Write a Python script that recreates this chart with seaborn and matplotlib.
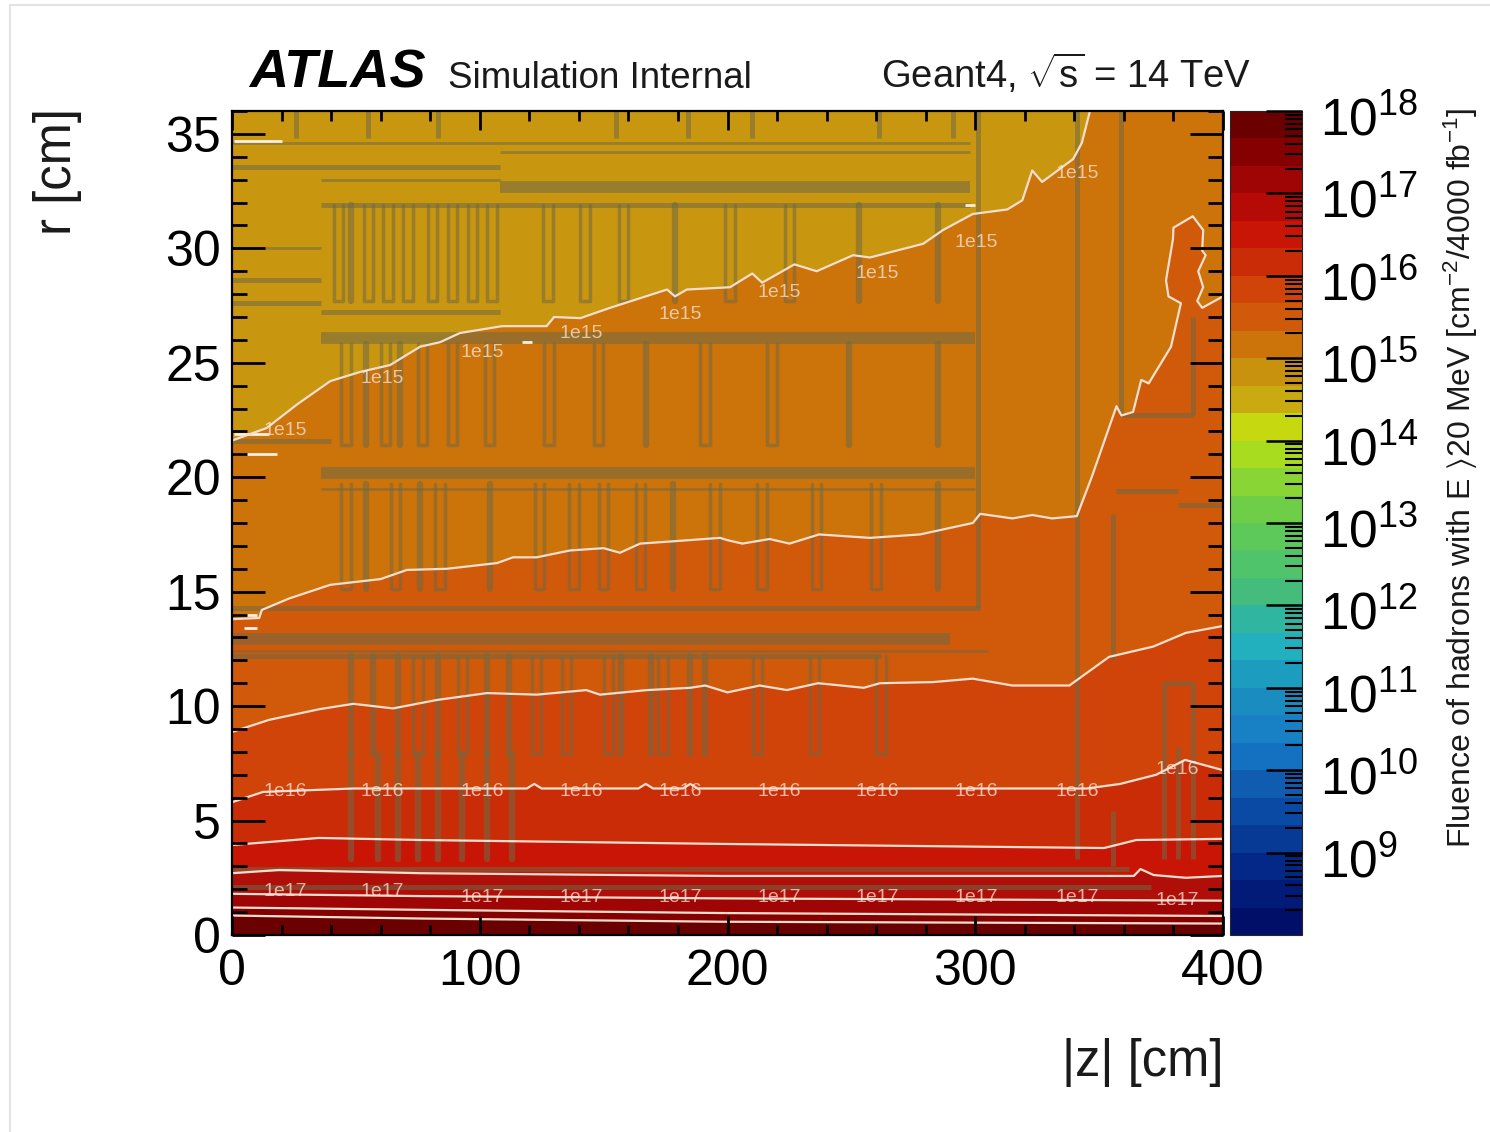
import numpy as np
import seaborn as sns
import matplotlib.pyplot as plt
from matplotlib.colors import ListedColormap, LogNorm
from matplotlib.cm import ScalarMappable
from matplotlib.lines import Line2D
from matplotlib.ticker import LogLocator, MultipleLocator, NullFormatter
from matplotlib.transforms import ScaledTranslation

# colour bar bands, bottom to top, three per decade from 1e8 to 1e18
band_colors = ["#010F68", "#021A78", "#032888", "#063A95", "#0A4AA5", "#0F5CB0",
               "#1470C0", "#1880C5", "#1A8CC0", "#1C9CBE", "#22B0BE", "#2FB5A0",
               "#45BC7C", "#4FC46A", "#5CC95A", "#6FCE48", "#88D535", "#A8DC1E",
               "#C5D810", "#C9AA10", "#C8920F", "#CC730A", "#D05A0A", "#D0440A",
               "#CB2C08", "#C81506", "#B50A05", "#A00505", "#850000", "#6B0000"]

# contours, from large r to small r
c1_z = [0, 14, 26.5, 39.7, 51.7, 63.8, 75.9, 84, 92, 109, 127, 130, 140.6, 152.6, 175.6, 178.8,
        183.6, 201, 210, 214, 227, 236, 250.7, 257.5, 279, 287, 299, 313, 319, 323, 327, 339.5, 343, 346.3]
c1_r = [21.6, 22.15, 23.2, 24.2, 24.6, 24.9, 25.7, 25.9, 26.3, 26.6, 26.6, 27.0, 26.95, 27.4, 28.2, 27.9,
        28.2, 28.3, 28.9, 28.5, 29.3, 29.0, 29.7, 29.6, 30.2, 30.8, 31.5, 31.7, 32.1, 33.4, 32.9, 33.9, 34.6, 36]

c2_z = [0, 11, 12, 23, 39.7, 60, 70.6, 86.8, 107, 113.4, 123, 136.4, 150, 156.6, 164.7, 178, 197, 200, 206,
        217, 225, 237, 257.5, 277.7, 299, 302, 315, 323, 331, 341, 347, 357, 359, 363.7, 367, 370, 379, 383,
        378, 377, 379.8, 380, 387.8, 392, 391.6, 393, 390, 392, 389.6, 391.6, 400]
c2_r = [13.8, 13.85, 14.2, 14.7, 15.3, 15.55, 15.95, 16, 16.25, 16.5, 16.5, 16.8, 16.9, 16.7, 17.1, 17.2, 17.35, 17.25, 17.1,
        17.3, 17.1, 17.5, 17.35, 17.5, 18.0, 18.4, 18.2, 18.35, 18.2, 18.3, 20, 23.1, 22.7, 22.85, 24.25, 24.1, 25.7, 27.6,
        27.9, 28.6, 30.4, 30.9, 31.4, 30.8, 29.9, 29.7, 29, 28.3, 27.7, 27.4, 27.9]

c3_z = [0, 15, 35.5, 49, 65, 82.8, 103, 123, 143, 148.5, 167.5, 185, 191, 200, 213, 224, 236.6, 255, 261.5,
        283, 299, 315, 338, 354, 371.8, 385, 400]
c3_r = [8.87, 9.4, 9.87, 10.1, 9.9, 10.27, 10.57, 10.5, 10.7, 10.5, 10.7, 10.8, 10.9, 10.6, 10.9, 10.7, 11, 10.8, 11,
        11.05, 11.2, 10.9, 10.9, 12.15, 12.6, 13.2, 13.5]

c4_z = [0, 12.5, 49, 119, 122, 125, 164, 167, 170, 182, 185, 188, 197, 345, 358.5, 373, 384.7, 400]
c4_r = [5.8, 6.25, 6.4, 6.4, 6.6, 6.4, 6.4, 6.6, 6.4, 6.4, 6.6, 6.4, 6.4, 6.4, 6.6, 7, 7.65, 7.2]

c5_z = [0, 35, 76, 197, 352, 365, 400]
c5_r = [3.93, 4.24, 4.15, 3.98, 3.8, 4.15, 4.2]

c6_z = [0, 19, 76, 197, 364, 366.7, 372, 385, 400]
c6_r = [2.7, 2.84, 2.7, 2.58, 2.58, 2.88, 2.62, 2.5, 2.58]

c7_z = [0, 76, 197, 400]
c7_r = [1.8, 1.7, 1.6, 1.5]
c8_z = [0, 76, 197, 400]
c8_r = [1.2, 1.1, 0.96, 0.83]
c9_z = [0, 76, 197, 400]
c9_r = [0.85, 0.72, 0.58, 0.5]

contours = [(c1_z, c1_r), (c2_z, c2_r), (c3_z, c3_r), (c4_z, c4_r), (c5_z, c5_r),
            (c6_z, c6_r), (c7_z, c7_r), (c8_z, c8_r), (c9_z, c9_r)]
below_colors = ["#CC730A", "#D05A0A", "#D0440A", "#CB2C08", "#C81506", "#B00E08", "#A00505", "#850000", "#6B0000"]

# contour labels
label_z = [21.4, 60.5, 100.9, 140.9, 180.8, 220.8, 260.3, 300.3, 341, 381.4]
label_1e15_r = [22.06, 24.3, 25.47, 26.3, 27.09, 28.09, 28.88, 30.27, 33.29]
label_1e16_r = [6.29] * 9 + [7.25]
label_1e17_r = [1.88, 1.88, 1.66, 1.66, 1.66, 1.66, 1.66, 1.66, 1.66, 1.49]

# material boundaries: slot rows (hollow z, solid z, r from, r to)
row_a = ([43, 55, 63, 71, 81, 89, 97, 105, 127.5, 142.5, 158, 201, 225], [48, 179, 253, 285], 31.9, 27.7)
row_b = ([46, 62, 77, 89, 104, 128, 148, 191, 218], [54, 68, 167, 249, 285], 25.8, 21.4)
row_c = ([46, 66, 84, 124, 138, 150, 165, 195, 214, 236, 260], [54, 76, 104, 178, 285], 19.7, 15.1)
row_d = ([75, 93, 123, 135, 152, 174, 212, 235, 262], [48, 57, 67, 83, 103, 112, 157, 169, 185, 191], 12.2, 7.9)
row_f = ([], [48, 59, 67, 75, 83, 93, 103, 113], 7.9, 3.3)
slot_rows = [row_a, row_b, row_c, row_d, row_f]

# short marks hanging from the top edge
top_z = [26, 55, 83, 155, 184, 210, 261, 291]

right_z = [301, 341, 359, 355.6, 388, 376, 388, 382, 355.6]
right_r0 = [36, 36, 36, 18.4, 27, 11, 11, 8.2, 5.4]
right_r1 = [14.3, 3.3, 22.7, 12, 22.7, 3.3, 3.3, 3.3, 3]

thick_r = [32.7, 26.1, 20.2, 12.95]
thick_z0 = [108, 36, 36, 0]
thick_z1 = [298, 300, 300, 290]
mid_r = [33.55, 31.9, 27.2, 27.6, 28.6, 21.6, 14.3, 12.2, 2.9, 2.1, 22.7, 19.4, 18.8, 11]
mid_z0 = [0, 36, 36, 0, 0, 0, 0, 0, 0, 0, 359, 357, 382, 376]
mid_z1 = [108, 298, 108, 36, 36, 40, 302, 262, 362, 371, 388, 382, 400, 388]
thin_r = [34.6, 34.2, 33.0, 30.0, 19.5, 12.4]
thin_z0 = [0, 108, 36, 0, 36, 0]
thin_z1 = [298, 298, 108, 36, 300, 305]

# small bright dashes
dash_r = [34.7, 21.0, 21.9, 14.0, 13.4, 31.9, 25.9]
dash_z0 = [1, 1, 1, 1, 5, 296, 117]
dash_z1 = [20, 18, 15, 10, 10, 300, 121]

z_ticks = [0, 100, 200, 300, 400]
r_ticks = [0, 5, 10, 15, 20, 25, 30, 35]

sns.set_theme(style="ticks")
plt.rcParams['font.family'] = ['Liberation Sans', 'DejaVu Sans']
plt.rcParams['mathtext.fontset'] = 'custom'
plt.rcParams['mathtext.rm'] = 'Liberation Sans'
plt.rcParams['mathtext.it'] = 'Liberation Sans:italic'
plt.rcParams['mathtext.bf'] = 'Liberation Sans:bold'
plt.rcParams['mathtext.default'] = 'regular'

W, H = 1490, 1132
fig = plt.figure(figsize=(W / 100, H / 100), dpi=100)
ax = fig.add_axes([232 / W, 1 - 935 / H, 991 / W, 824 / H])
cax = fig.add_axes([1230 / W, 1 - 935 / H, 72 / W, 824 / H])

ax.set_xlim(0, 400)
ax.set_ylim(0, 36)
ax.set_facecolor("#C9960F")

# filled regions, each one covers everything under its contour
for (cz, cr), col in zip(contours, below_colors):
    if cz is c1_z:
        ax.fill(list(cz) + [400, 400, 0], list(cr) + [36, 0, 0], color=col, lw=0, zorder=1)
    else:
        ax.fill(list(cz) + [400, 0], list(cr) + [0, 0], color=col, lw=0, zorder=1)

struct = dict(color="#6e6a45", alpha=0.55, zorder=2)
for hollow, solid, r0, r1 in slot_rows:
    ax.vlines(solid, r0, r1, lw=4.6, capstyle="round", **struct)
    for z in hollow:
        ax.plot([z - 1.9, z - 1.9, z + 1.9, z + 1.9], [r0, r1, r1, r0], lw=2.5, **struct)
ax.vlines(top_z, 34.8, 36, lw=3.5, **struct)
ax.vlines(right_z, right_r0, right_r1, lw=3.6, **struct)
ax.hlines(thick_r, thick_z0, thick_z1, lw=8.5, **struct)
ax.hlines(mid_r, mid_z0, mid_z1, lw=3.6, **struct)
ax.hlines(thin_r, thin_z0, thin_z1, lw=2, **struct)

ax.hlines(dash_r, dash_z0, dash_z1, color="#f6efe2", lw=2, zorder=4)

for cz, cr in contours:
    sns.lineplot(x=cz, y=cr, sort=False, estimator=None, ax=ax, color="#f3dfcf", lw=1.6, zorder=5)

for vals, txt in [(label_1e15_r, "1e15"), (label_1e16_r, "1e16"), (label_1e17_r, "1e17")]:
    for z, r in zip(label_z, vals):
        ax.text(z, r, txt, color="#f7e6d8", alpha=0.75, fontsize=14, ha="center", va="center", zorder=6)

# ROOT style ticks on all sides
ax.set_xticks(z_ticks)
ax.set_yticks(r_ticks)
ax.xaxis.set_minor_locator(MultipleLocator(20))
ax.yaxis.set_minor_locator(MultipleLocator(1))
ax.tick_params(which="both", direction="in", top=True, right=True, colors="black", width=2)
ax.tick_params(axis="x", which="major", length=14, labelsize=36, pad=10)
ax.tick_params(axis="x", which="minor", length=7)
ax.tick_params(axis="y", which="major", length=24, labelsize=36, pad=8)
ax.tick_params(axis="y", which="minor", length=11)
ax.xaxis.set_zorder(8)
ax.yaxis.set_zorder(8)
for s in ax.spines.values():
    s.set_linewidth(1.6)
    s.set_color("black")
    s.set_zorder(9)
ax.set_xlabel("")
ax.set_ylabel("")

cmap = ListedColormap(band_colors)
cb = fig.colorbar(ScalarMappable(norm=LogNorm(1e8, 1e18), cmap=cmap), cax=cax)
cb.outline.set_linewidth(0.8)
cax.yaxis.set_ticks_position("right")
cax.set_yticks([10.0**i for i in range(9, 19)])
cax.yaxis.set_minor_locator(LogLocator(base=10, subs=range(2, 10), numticks=12))
cax.yaxis.set_minor_formatter(NullFormatter())
cax.tick_params(which="major", direction="in", length=26, width=1.8, color="black",
                labelcolor="black", labelsize=37, pad=13)
cax.tick_params(which="minor", direction="in", length=12, width=1.5, color="black")
cax.yaxis.set_zorder(8)
shift = ScaledTranslation(0, -5 / 100, fig.dpi_scale_trans)
for lab in cax.get_yticklabels():
    lab.set_transform(lab.get_transform() + shift)

# header and axis titles
fig.text(249 / W, 1 - 87 / H, "ATLAS", fontsize=39, fontweight="bold", fontstyle="italic", color="black")
fig.text(448 / W, 1 - 88 / H, "Simulation Internal", fontsize=26.5, color="#1a1a1a")
fig.text(881 / W, 1 - 88 / H, r"Geant4, $\sqrt{s}$ = 14 TeV", fontsize=27.5, color="#1a1a1a")
fig.text(1223 / W, 1 - 1076 / H, "|z| [cm]", fontsize=36.5, ha="right", color="#1a1a1a")
fig.text(58 / W, 1 - 108 / H, "r [cm]", fontsize=36.5, rotation=90, ha="center", va="top", color="#1a1a1a")
fig.text(1461 / W, 1 - 108 / H, r"Fluence of hadrons with E $\rangle$20 MeV [cm$^{-2}$/4000 fb$^{-1}$]",
         fontsize=23, rotation=90, ha="center", va="top", color="#1a1a1a")

# faint frame of the original page
fig.add_artist(Line2D([10 / W, 10 / W], [0, 1 - 5 / H], color="#e3e3e3", lw=1.5))
fig.add_artist(Line2D([10 / W, 1], [1 - 5 / H, 1 - 5 / H], color="#e3e3e3", lw=1.5))

plt.savefig("out.png", dpi=100)
